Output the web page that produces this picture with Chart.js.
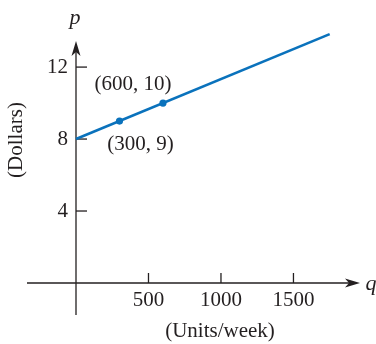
<!DOCTYPE html>
<html>
<head>
<meta charset="utf-8">
<script src="https://cdn.jsdelivr.net/npm/chart.js@4/dist/chart.umd.min.js"></script>
<style>
  body { margin: 0; background: #fff; }
  #chart { display: block; }
</style>
</head>
<body>
<canvas id="chart" width="376" height="344"></canvas>
<script>
// demand line p = 8 + q/300, drawn from q = 0 to about 1750
const lineQ = [0, 1750];
const lineP = [8, 13.83];

// marked points and their labels
const pointQ = [300, 600];
const pointP = [9, 10];
const pointText = ['(300, 9)', '(600, 10)'];

// ticks
const xTicks = [500, 1000, 1500];
const yTicks = [4, 8, 12];

const ink = '#231f20';
const blue = '#0a72bc';
const font = '21px "Liberation Serif", "DejaVu Serif", serif';
const italic = 'italic 22px "Liberation Serif", "DejaVu Serif", serif';

// draw the axes, arrows, ticks and all text ourselves
const axesPlugin = {
    id: 'axes',
    beforeDatasetsDraw(chart) {
        const ctx = chart.ctx;
        const x = chart.scales.x;
        const y = chart.scales.y;
        const x0 = x.getPixelForValue(0);
        const y0 = y.getPixelForValue(0);
        const left = chart.chartArea.left, right = chart.chartArea.right;
        const top = chart.chartArea.top, bottom = chart.chartArea.bottom;

        ctx.save();
        ctx.strokeStyle = ink;
        ctx.fillStyle = ink;
        ctx.lineWidth = 1.3;

        // x axis
        ctx.beginPath();
        ctx.moveTo(left, y0);
        ctx.lineTo(right - 6, y0);
        ctx.stroke();
        ctx.beginPath();
        ctx.moveTo(right, y0);
        ctx.lineTo(right - 15, y0 - 4.5);
        ctx.lineTo(right - 11, y0);
        ctx.lineTo(right - 15, y0 + 4.5);
        ctx.closePath();
        ctx.fill();

        // y axis
        ctx.beginPath();
        ctx.moveTo(x0, bottom);
        ctx.lineTo(x0, top + 6);
        ctx.stroke();
        ctx.beginPath();
        ctx.moveTo(x0, top);
        ctx.lineTo(x0 - 4.5, top + 15);
        ctx.lineTo(x0, top + 11);
        ctx.lineTo(x0 + 4.5, top + 15);
        ctx.closePath();
        ctx.fill();

        // ticks and tick labels
        ctx.font = font;
        ctx.textAlign = 'center';
        ctx.textBaseline = 'middle';
        xTicks.forEach(v => {
            const px = x.getPixelForValue(v);
            ctx.beginPath();
            ctx.moveTo(px, y0);
            ctx.lineTo(px, y0 - 10);
            ctx.stroke();
            ctx.fillText(String(v), px, y0 + 18);
        });
        ctx.textAlign = 'right';
        yTicks.forEach(v => {
            const py = y.getPixelForValue(v);
            ctx.beginPath();
            ctx.moveTo(x0, py);
            ctx.lineTo(x0 + 11, py);
            ctx.stroke();
            ctx.fillText(String(v), x0 - 8, py);
        });

        // axis letters
        ctx.font = italic;
        ctx.textAlign = 'center';
        ctx.fillText('p', x0 - 1, 18);
        ctx.fillText('q', 371, y0 + 1);

        // axis titles
        ctx.font = font;
        ctx.fillText('(Units/week)', 220, 331);
        ctx.save();
        ctx.translate(16, 140);
        ctx.rotate(-Math.PI / 2);
        ctx.fillText('(Dollars)', 0, 0);
        ctx.restore();

        ctx.restore();
    },
    afterDatasetsDraw(chart) {
        const ctx = chart.ctx;
        const x = chart.scales.x;
        const y = chart.scales.y;
        // label offsets from each point, in pixels
        const offsets = [[21, 23], [-30, -19]];
        ctx.save();
        ctx.fillStyle = ink;
        ctx.font = font;
        ctx.textAlign = 'center';
        ctx.textBaseline = 'middle';
        pointText.forEach((t, i) => {
            const px = x.getPixelForValue(pointQ[i]) + offsets[i][0];
            const py = y.getPixelForValue(pointP[i]) + offsets[i][1];
            ctx.fillText(t, px, py);
        });
        ctx.restore();
    }
};

new Chart(document.getElementById('chart'), {
    type: 'scatter',
    data: {
        datasets: [
            {
                data: pointQ.map((q, i) => ({ x: q, y: pointP[i] })),
                showLine: false,
                pointRadius: 3.6,
                pointBackgroundColor: blue,
                pointBorderWidth: 0,
                clip: false
            },
            {
                data: lineQ.map((q, i) => ({ x: q, y: lineP[i] })),
                showLine: true,
                borderColor: blue,
                borderWidth: 2.6,
                pointRadius: 0,
                clip: false
            }
        ]
    },
    options: {
        responsive: false,
        animation: false,
        events: [],
        layout: { padding: { left: 27, right: 16, top: 41, bottom: 29 } },
        plugins: { legend: { display: false }, tooltip: { enabled: false } },
        scales: {
            x: { type: 'linear', display: false, min: -338, max: 1959 },
            y: { type: 'linear', display: false, min: -1.78, max: 13.45 }
        }
    },
    plugins: [axesPlugin]
});
</script>
</body>
</html>
